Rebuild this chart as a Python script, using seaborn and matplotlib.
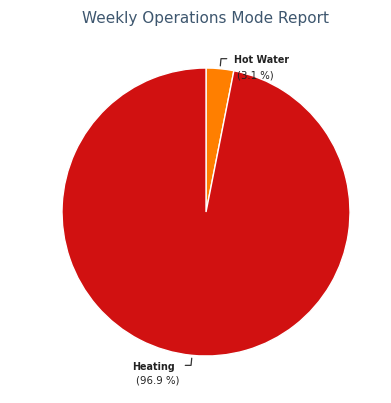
import numpy as np
import matplotlib.pyplot as plt
import seaborn as sns

sns.set_style('white')
plt.rcParams['font.family'] = ['DejaVu Sans']

# data
modes = ['Hot Water', 'Heating']
shares = [3.1, 96.9]
colors = ['#FF7F00', '#D11111']
title = 'Weekly Operations Mode Report'

fig = plt.figure(figsize=(3.91, 4.03), dpi=100)
ax = fig.add_axes([0.1586, 0.1166, 0.7366, 0.7146])

wedges, _ = ax.pie(shares, colors=colors, startangle=90, counterclock=False,
                   wedgeprops=dict(edgecolor='white', linewidth=1))
ax.set_xlim(-1, 1)
ax.set_ylim(-1, 1)
ax.set_aspect('equal')
ax.axis('off')

name_kw = dict(fontsize=6.9, fontweight='bold', color='#222222', va='center')
pct_kw = dict(fontsize=7.3, color='#222222', va='center')

# labels with small connectors
for w, name, val in zip(wedges, modes, shares):
    ang = np.deg2rad((w.theta1 + w.theta2) / 2)
    x, y = np.cos(ang), np.sin(ang)
    side = 1 if x >= 0 else -1
    p0 = (x * 1.02, y * 1.02)
    p1 = (x * 1.07, y * 1.07)
    p2 = (p1[0] + side * 0.04, p1[1])
    ax.plot([p0[0], p1[0], p2[0]], [p0[1], p1[1], p2[1]], color='#333333', lw=0.9,
            clip_on=False)
    if side > 0:
        ax.text(p2[0] + 0.05, p2[1] - 0.01, name, ha='left', **name_kw)
        ax.text(p2[0] + 0.07, p2[1] - 0.115, f'({val} %)', ha='left', **pct_kw)
    else:
        ax.text(p2[0] - 0.07, p2[1] - 0.01, name, ha='right', **name_kw)
        ax.text(p2[0] - 0.04, p2[1] - 0.105, f'({val} %)', ha='right', **pct_kw)

fig.text(0.525, 0.953, title, fontsize=11, color='#3E576F', ha='center', va='center')

fig.savefig('out.png', dpi=100)
